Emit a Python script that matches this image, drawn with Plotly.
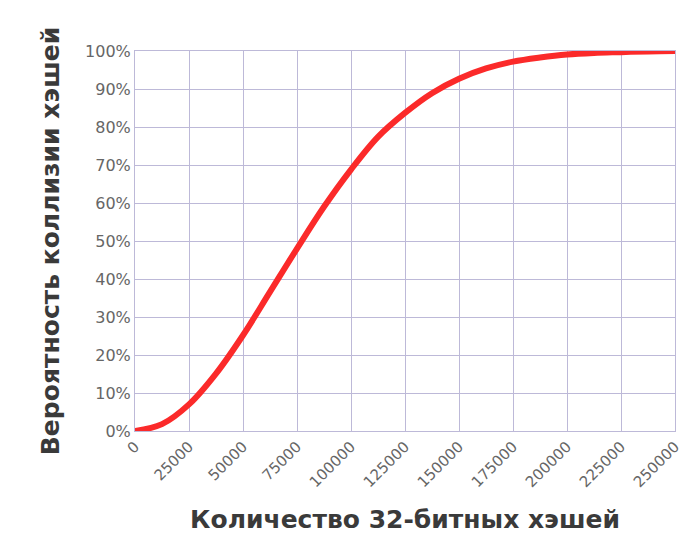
import plotly.graph_objects as go

n_hashes = [0, 12500, 25000, 37500, 50000, 62500, 75000, 87500, 100000, 112500, 125000,
            137500, 150000, 162500, 175000, 187500, 200000, 212500, 225000, 237500, 250000]
prob = [0, 1.8, 7.0, 15.1, 25.2, 36.6, 48.0, 59.0, 68.8, 77.4, 83.7,
        88.9, 92.7, 95.4, 97.2, 98.3, 99.1, 99.5, 99.7, 99.9, 100]
x_ticks = list(range(0, 250001, 25000))
y_ticks = list(range(0, 101, 10))

fig = go.Figure(go.Scatter(x=n_hashes, y=prob, mode="lines", line_shape="spline",
                           line=dict(color="#fb2a2a", width=6)))
grid = "#bdb9d8"
fig.update_layout(
    width=700, height=560, showlegend=False,
    paper_bgcolor="white", plot_bgcolor="white",
    margin=dict(l=127, r=33, t=43, b=137),
    font=dict(family="DejaVu Sans", color="#555"),
)
fig.update_xaxes(range=[0, 250000], tickvals=x_ticks, ticktext=[str(v) for v in x_ticks],
                 tickangle=-45, showgrid=True, gridcolor=grid, showline=True, linecolor=grid,
                 mirror=True, zeroline=False, tickfont=dict(size=15, color="#666"), automargin=False,
                 title=dict(text="<b>Количество 32-битных хэшей</b>",
                            font=dict(size=25, color="#3a3a3a"), standoff=20))
fig.update_yaxes(range=[0, 100], tickvals=y_ticks, ticktext=[f"{v}%" for v in y_ticks],
                 showgrid=True, gridcolor=grid, showline=True, linecolor=grid,
                 mirror=True, zeroline=False, tickfont=dict(size=16, color="#666"), automargin=False,
                 title=dict(text="<b>Вероятность коллизии хэшей</b>",
                            font=dict(size=25, color="#3a3a3a"), standoff=18))
fig.write_html("out.html")
